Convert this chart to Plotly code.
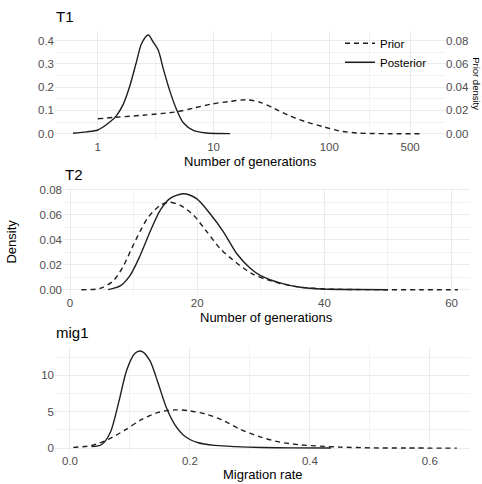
import plotly.graph_objects as go

W, H = 482, 484

# ---------------- data ----------------
# T1 (log x axis)
t1_post_x = [0.61, 0.8, 1.0, 1.27, 1.45, 1.66, 1.89, 2.16, 2.39, 2.73, 3.01, 3.33, 3.67, 4.2, 4.8, 5.48, 6.69, 8.7, 11.0, 13.9]
t1_post_y = [0.002, 0.008, 0.016, 0.05, 0.078, 0.127, 0.205, 0.31, 0.388, 0.424, 0.394, 0.359, 0.281, 0.182, 0.103, 0.047, 0.014, 0.003, 0.001, 0.0005]
t1_prior_x = [1.0, 1.45, 2.45, 4.7, 6.7, 9.6, 13.9, 19.4, 25.3, 33.0, 45.9, 64.0, 89.0, 124.0, 174.0, 226.0, 350.0, 650.0]
t1_prior_y = [0.0128, 0.0142, 0.0159, 0.0187, 0.022, 0.0255, 0.0278, 0.0292, 0.027, 0.022, 0.0151, 0.010, 0.006, 0.0023, 0.0006, 0.0002, 0.0, 0.0]

# T2
t2_post_x = [6.0, 7.9, 9.4, 11.0, 12.6, 14.2, 15.7, 17.8, 19.9, 22.0, 24.1, 26.2, 28.3, 29.9, 33.0, 36.2, 39.8, 45.0, 50.0]
t2_post_y = [0.0, 0.003, 0.011, 0.027, 0.0465, 0.0637, 0.0729, 0.0768, 0.0729, 0.061, 0.0465, 0.029, 0.0174, 0.0115, 0.0055, 0.002, 0.0005, 0.0001, 0.0]
t2_prior_x = [1.8, 4.7, 6.8, 8.4, 9.7, 11.0, 12.3, 14.2, 15.6, 17.3, 19.4, 21.5, 23.6, 26.2, 28.8, 31.0, 33.0, 36.2, 40.0, 45.0, 50.0, 55.0, 61.0]
t2_prior_y = [0.0, 0.001, 0.007, 0.019, 0.033, 0.0465, 0.058, 0.0676, 0.070, 0.0676, 0.0597, 0.0465, 0.033, 0.0214, 0.0122, 0.008, 0.005, 0.002, 0.0006, 0.0001, 0.0, 0.0, 0.0]

# mig1
m_post_x = [0.036, 0.053, 0.067, 0.081, 0.0945, 0.108, 0.119, 0.133, 0.147, 0.161, 0.175, 0.192, 0.214, 0.242, 0.275, 0.32, 0.37, 0.435]
m_post_y = [0.2, 0.5, 2.1, 6.2, 10.7, 13.0, 13.3, 12.05, 8.9, 5.5, 3.2, 1.6, 0.73, 0.37, 0.2, 0.08, 0.03, 0.01]
m_prior_x = [0.0055, 0.036, 0.064, 0.092, 0.119, 0.147, 0.175, 0.197, 0.225, 0.253, 0.283, 0.317, 0.35, 0.383, 0.417, 0.45, 0.505, 0.56, 0.645]
m_prior_y = [0.1, 0.35, 1.2, 2.5, 3.9, 4.9, 5.25, 5.15, 4.7, 3.9, 2.6, 1.55, 0.82, 0.46, 0.27, 0.14, 0.03, 0.01, 0.0]

# tick labels
t1_xticks = [1, 10, 100, 500]
t1_xticklabels = ["1", "10", "100", "500"]

# ---------------- style ----------------
FONT = "Liberation Sans, Arial, sans-serif"
TICKC = "#4d4d4d"
LINEC = "#1f1f1f"
GRID = "#ebebeb"
GRIDMIN = "#f2f2f2"
DASH = "5px,4px"
LW = 1.4


def px(x):
    return x / W


def py(y):
    return 1 - y / H


fig = go.Figure()

fig.add_trace(go.Scatter(x=t1_prior_x, y=t1_prior_y, mode="lines", name="Prior",
                         line=dict(color=LINEC, width=LW, dash=DASH, shape="spline", smoothing=0.8),
                         xaxis="x", yaxis="y2", legendrank=1))
fig.add_trace(go.Scatter(x=t1_post_x, y=t1_post_y, mode="lines", name="Posterior",
                         line=dict(color=LINEC, width=LW, shape="spline", smoothing=0.8),
                         xaxis="x", yaxis="y", legendrank=2))
fig.add_trace(go.Scatter(x=t2_prior_x, y=t2_prior_y, mode="lines", showlegend=False,
                         line=dict(color=LINEC, width=LW, dash=DASH, shape="spline", smoothing=0.8),
                         xaxis="x2", yaxis="y3"))
fig.add_trace(go.Scatter(x=t2_post_x, y=t2_post_y, mode="lines", showlegend=False,
                         line=dict(color=LINEC, width=LW, shape="spline", smoothing=0.8),
                         xaxis="x2", yaxis="y3"))
fig.add_trace(go.Scatter(x=m_prior_x, y=m_prior_y, mode="lines", showlegend=False,
                         line=dict(color=LINEC, width=LW, dash=DASH, shape="spline", smoothing=0.8),
                         xaxis="x3", yaxis="y4"))
fig.add_trace(go.Scatter(x=m_post_x, y=m_post_y, mode="lines", showlegend=False,
                         line=dict(color=LINEC, width=LW, shape="spline", smoothing=0.8),
                         xaxis="x3", yaxis="y4"))

tickfont = dict(family=FONT, size=11.5, color=TICKC)
common = dict(showline=False, zeroline=False, ticks="", showgrid=True, gridcolor=GRID,
              gridwidth=1, tickfont=tickfont)

fig.update_layout(
    width=W, height=H,
    margin=dict(l=0, r=0, t=0, b=0),
    paper_bgcolor="white", plot_bgcolor="white",
    font=dict(family=FONT, color="black"),
    xaxis=dict(common, type="log", range=[-0.37, 3.0], domain=[px(55), px(445)], anchor="y",
               tickvals=t1_xticks, ticktext=t1_xticklabels,
               minor=dict(tickvals=[3.1623, 31.623, 223.6], showgrid=True, gridcolor=GRIDMIN, gridwidth=0.6)),
    yaxis=dict(common, range=[-0.021, 0.441], domain=[py(136), py(27.4)], anchor="x",
               tickvals=[0, 0.1, 0.2, 0.3, 0.4], tickformat=".1f",
               minor=dict(tickvals=[0.05, 0.15, 0.25, 0.35], showgrid=True, gridcolor=GRIDMIN, gridwidth=0.6)),
    yaxis2=dict(common, range=[-0.0042, 0.0882], overlaying="y", side="right", anchor="x",
                tickvals=[0, 0.02, 0.04, 0.06, 0.08], tickformat=".2f", showgrid=False),
    xaxis2=dict(common, range=[-1.1, 62.9], domain=[px(63), px(470)], anchor="y3",
                tickvals=[0, 20, 40, 60],
                minor=dict(tickvals=[10, 30, 50], showgrid=True, gridcolor=GRIDMIN, gridwidth=0.6)),
    yaxis3=dict(common, range=[-0.0039, 0.0814], domain=[py(293.6), py(185.9)], anchor="x2",
                tickvals=[0, 0.02, 0.04, 0.06, 0.08], tickformat=".2f",
                minor=dict(tickvals=[0.01, 0.03, 0.05, 0.07], showgrid=True, gridcolor=GRIDMIN, gridwidth=0.6)),
    xaxis3=dict(common, range=[-0.025, 0.667], domain=[px(55), px(470)], anchor="y4",
                tickvals=[0, 0.2, 0.4, 0.6], tickformat=".1f",
                minor=dict(tickvals=[0.1, 0.3, 0.5], showgrid=True, gridcolor=GRIDMIN, gridwidth=0.6)),
    yaxis4=dict(common, range=[-0.66, 13.96], domain=[py(453.6), py(346)], anchor="x3",
                tickvals=[0, 5, 10],
                minor=dict(tickvals=[2.5, 7.5, 12.5], showgrid=True, gridcolor=GRIDMIN, gridwidth=0.6)),
    legend=dict(x=px(340), y=py(25), xanchor="left", yanchor="top", bgcolor="rgba(0,0,0,0)",
                font=dict(family=FONT, size=11.5, color="black"), tracegroupgap=0,
                itemwidth=30),
    showlegend=True,
)

ann = []
def add_text(text, x, y, size, xanchor="center", angle=0, color="black"):
    ann.append(dict(text=text, x=px(x), y=py(y), xref="paper", yref="paper", showarrow=False,
                    xanchor=xanchor, yanchor="middle", textangle=angle,
                    font=dict(family=FONT, size=size, color=color)))

add_text("T1", 54, 13, 15, xanchor="left")
add_text("T2", 63, 172, 15, xanchor="left")
add_text("mig1", 54, 332, 15, xanchor="left")
add_text("Number of generations", 250, 159, 13)
add_text("Number of generations", 266, 317, 13)
add_text("Migration rate", 262, 475, 13)
add_text("Density", 12, 240, 13, angle=-90)
add_text("Prior density", 477, 80, 9.5, angle=90)
fig.update_layout(annotations=ann)

fig.write_html("out.html")
